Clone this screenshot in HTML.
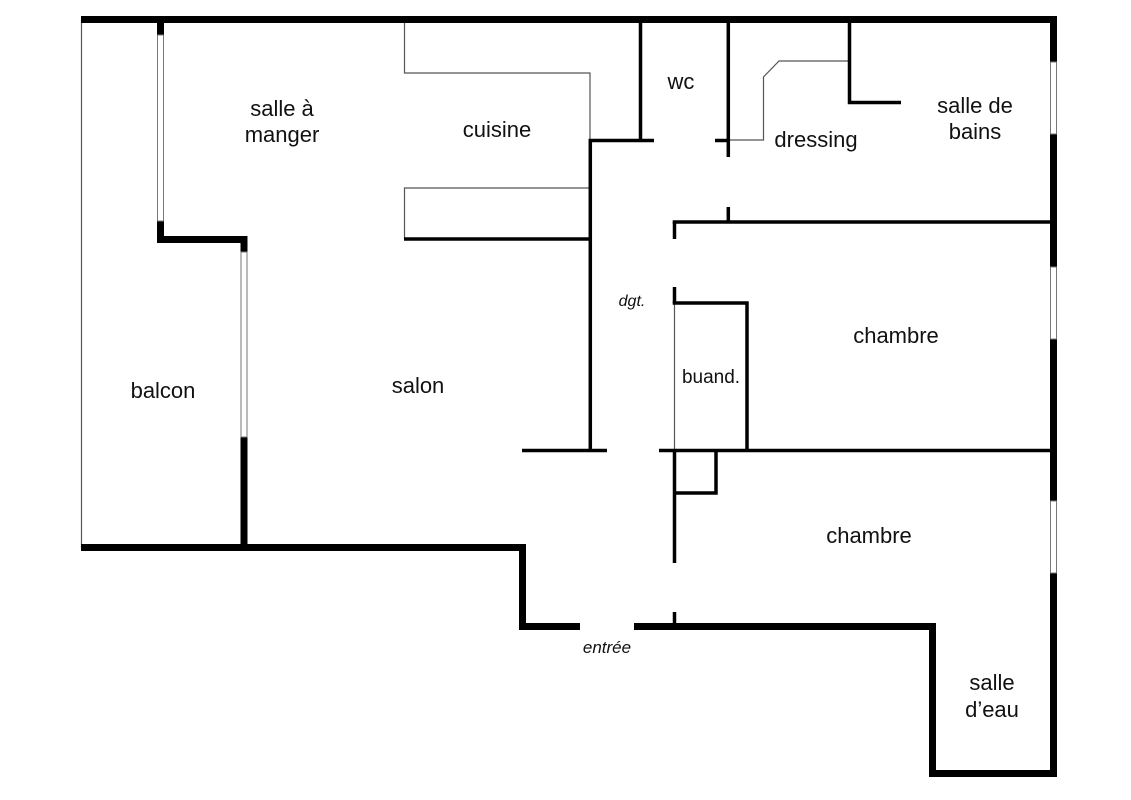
<!DOCTYPE html>
<html>
<head>
<meta charset="utf-8">
<style>
  html,body{margin:0;padding:0;background:#fff;}
  svg{display:block;}
  text{font-family:"Liberation Sans",Arial,sans-serif;fill:#111;}
</style>
</head>
<body>
<svg width="1131" height="800" viewBox="0 0 1131 800" xmlns="http://www.w3.org/2000/svg">
  <rect x="0" y="0" width="1131" height="800" fill="#fff"/>

  <!-- thin lines -->
  <g stroke="#555" stroke-width="1.2" fill="none">
    <line x1="81.5" y1="20" x2="81.5" y2="548"/>
    <polyline points="404.5,23 404.5,73 590,73 590,140"/>
    <polyline points="590,188 404.5,188 404.5,239"/>
    <polyline points="849,61 779,61 763.5,77 763.5,140 728,140"/>
    <line x1="674.5" y1="303" x2="674.5" y2="450"/>
  </g>

  <!-- interior walls -->
  <g stroke="#000" stroke-width="3.5" fill="none" stroke-linecap="butt">
    <polyline points="654,140.5 590.3,140.5 590.3,450"/>
    <line x1="522" y1="450.5" x2="607" y2="450.5"/>
    <line x1="640.5" y1="23" x2="640.5" y2="140"/>
    <line x1="728.3" y1="23" x2="728.3" y2="157"/>
    <line x1="715" y1="140.5" x2="728" y2="140.5"/>
    <line x1="404" y1="239" x2="590" y2="239"/>
    <polyline points="849.5,23 849.5,102.5 901,102.5"/>
    <line x1="672.7" y1="222" x2="1050" y2="222"/>
    <line x1="674.5" y1="222" x2="674.5" y2="239"/>
    <line x1="728.3" y1="207" x2="728.3" y2="222"/>
    <line x1="674.5" y1="287" x2="674.5" y2="303"/>
    <polyline points="672.7,303 747,303 747,450"/>
    <line x1="659" y1="450.5" x2="1050" y2="450.5"/>
    <line x1="674.5" y1="450" x2="674.5" y2="563"/>
    <polyline points="674.5,493 716,493 716,450"/>
    <line x1="674.5" y1="612" x2="674.5" y2="625"/>
  </g>

  <!-- outer walls -->
  <g fill="#000">
    <rect x="81" y="16" width="976" height="7"/>
    <rect x="1050" y="16" width="7" height="761"/>
    <rect x="157" y="23" width="7" height="220"/>
    <rect x="157" y="236" width="90.5" height="7"/>
    <rect x="240.5" y="236" width="7" height="315"/>
    <rect x="81" y="544" width="445" height="7"/>
    <rect x="519" y="544" width="7" height="86"/>
    <rect x="519" y="623" width="61" height="7"/>
    <rect x="634" y="623" width="302" height="7"/>
    <rect x="929" y="623" width="7" height="154"/>
    <rect x="929" y="770" width="128" height="7"/>
  </g>

  <!-- windows -->
  <g fill="#fff" stroke="#777" stroke-width="1">
    <rect x="157.5" y="35" width="6" height="186"/>
    <rect x="241" y="252" width="6" height="185"/>
    <rect x="1050.5" y="62" width="6" height="72"/>
    <rect x="1050.5" y="267" width="6" height="72"/>
    <rect x="1050.5" y="501" width="6" height="72"/>
  </g>

  <!-- labels -->
  <g font-size="22" text-anchor="middle">
    <text x="282" y="116">salle à</text>
    <text x="282" y="142">manger</text>
    <text x="497" y="137">cuisine</text>
    <text x="681" y="89">wc</text>
    <text x="816" y="147">dressing</text>
    <text x="975" y="113">salle de</text>
    <text x="975" y="139">bains</text>
    <text x="163" y="398">balcon</text>
    <text x="418" y="393">salon</text>
    <text x="896" y="343">chambre</text>
    <text x="869" y="543">chambre</text>
    <text x="992" y="690">salle</text>
    <text x="992" y="717">d’eau</text>
  </g>
  <text x="711" y="383" font-size="19" text-anchor="middle">buand.</text>
  <text x="632" y="306" font-size="16" font-style="italic" text-anchor="middle">dgt.</text>
  <text x="607" y="653" font-size="17" font-style="italic" text-anchor="middle">entrée</text>
</svg>
</body>
</html>
